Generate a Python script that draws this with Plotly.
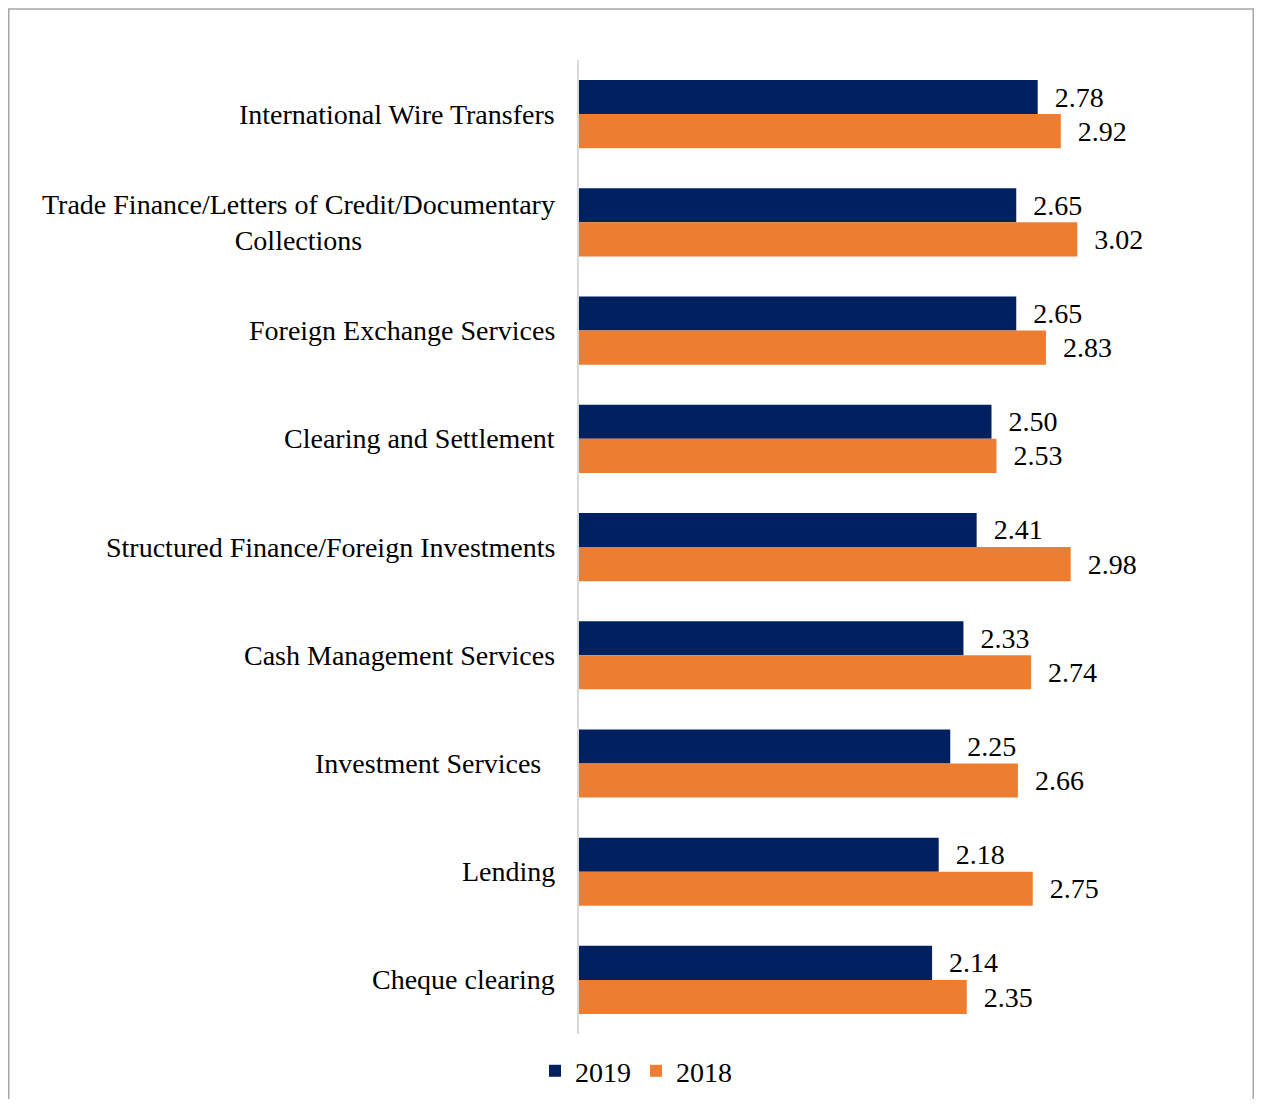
import plotly.graph_objects as go

# services, top to bottom
categories = [
    "International Wire Transfers",
    "Trade Finance/Letters of Credit/Documentary<br>Collections",
    "Foreign Exchange Services",
    "Clearing and Settlement",
    "Structured Finance/Foreign Investments",
    "Cash Management Services",
    "Investment Services\u00a0\u00a0",
    "Lending",
    "Cheque clearing",
]
values_2019 = [2.78, 2.65, 2.65, 2.50, 2.41, 2.33, 2.25, 2.18, 2.14]
values_2018 = [2.92, 3.02, 2.83, 2.53, 2.98, 2.74, 2.66, 2.75, 2.35]

FONT = "Liberation Serif, Times New Roman, serif"
NAVY = "#002060"
ORANGE = "#ED7D31"

# page has an 8px body margin, so the figure is sized to fit inside it
W, H = 1246, 1091
L, R, T, B = 571, 15, 52, 60

fig = go.Figure()
for name, vals, col in [("2019", values_2019, NAVY), ("2018", values_2018, ORANGE)]:
    fig.add_trace(go.Bar(
        name=name, y=categories, x=vals, orientation="h",
        marker=dict(color=col, line=dict(width=0)),
        texttemplate="\u00a0\u00a0%{x:.2f}", textposition="outside",
        constraintext="none", cliponaxis=False,
        textfont=dict(family=FONT, size=28, color="black"),
    ))

# category labels as annotations so two-line labels stay centred
for cat in categories:
    fig.add_annotation(
        x=0, xref="paper", y=cat, yref="y", xanchor="right", xshift=-22,
        text=cat, showarrow=False, align="center",
        font=dict(family=FONT, size=28, color="black"),
    )

# outer frame
pw, ph = W - L - R, H - T - B
fig.add_shape(
    type="rect", xref="paper", yref="paper",
    x0=(0.75 - L) / pw, x1=(W - 0.75 - L) / pw,
    y0=-0.2, y1=(H - B - 0.75) / ph,
    line=dict(color="#a6a6a6", width=1.5), fillcolor="rgba(0,0,0,0)",
)

fig.update_layout(
    width=W, height=H,
    margin=dict(l=L, r=R, t=T, b=B),
    paper_bgcolor="white", plot_bgcolor="white",
    barmode="group", bargap=0.37, bargroupgap=0,
    font=dict(family=FONT, size=28, color="black"),
    xaxis=dict(visible=False, range=[0, 4]),
    yaxis=dict(
        autorange="reversed", showticklabels=False, ticks="",
        showgrid=False, showline=True, linecolor="#d9d9d9", linewidth=2,
    ),
    legend=dict(
        orientation="h", xref="container", yref="container",
        x=0.504, xanchor="center", y=0.0256, yanchor="middle",
        font=dict(family=FONT, size=28), itemwidth=30,
    ),
)

fig.write_html("out.html")
